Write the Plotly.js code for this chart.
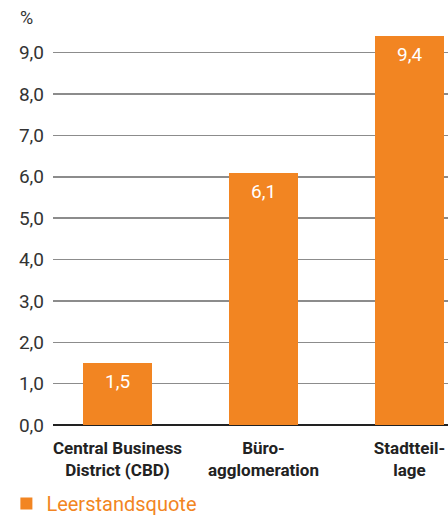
<!DOCTYPE html>
<html><head><meta charset="utf-8">
<script src="https://cdn.plot.ly/plotly-3.0.1.min.js"></script>
<style>html,body{margin:0;padding:0;background:#fff}#c{width:448px;height:517px}</style>
</head><body><div id="c"></div>
<script>
const categories = ["Central Business<br>District (CBD)", "Büro-<br>agglomeration", "Stadtteil-<br>lage"];
const values = [1.5, 6.1, 9.4];
const seriesName = "Leerstandsquote";
const yTicks = [0,1,2,3,4,5,6,7,8,9];

const ORANGE = "#F28522";
const FONT = "Roboto, 'Liberation Sans', sans-serif";

const trace = {
  type: "bar", x: categories, y: values, name: seriesName,
  marker: {color: ORANGE, line: {width: 0}},
  width: 0.473, hoverinfo: "skip", showlegend: true
};

const labelAnnotations = categories.map((c, i) => ({
  x: c, y: values[i], xref: "x", yref: "y",
  text: values[i].toFixed(1).replace(".", ","),
  showarrow: false, yanchor: "top", yshift: -5,
  font: {family: FONT, size: 19, color: "#ffffff"}
}));

const layout = {
  width: 448, height: 517,
  margin: {l: 53, r: 0, t: 32, b: 92, autoexpand: false},
  paper_bgcolor: "#fff", plot_bgcolor: "#fff",
  separators: ",.",
  font: {family: FONT, color: "#333"},
  bargap: 0,
  xaxis: {
    type: "category", range: [-0.442, 2.264], showgrid: false, zeroline: false,
    showline: false, ticks: "", fixedrange: true, automargin: false,
    ticklabelstandoff: 11,
    tickfont: {family: FONT, size: 17, color: "#222", weight: "bold"}
  },
  yaxis: {
    range: [0, 9.5], tickvals: yTicks, tickformat: ".1f", automargin: false,
    showgrid: true, gridcolor: "#8c8c8c", gridwidth: 1.5,
    zeroline: true, zerolinecolor: "#222", zerolinewidth: 2.5,
    showline: false, ticks: "", ticklabelstandoff: 8,
    tickfont: {family: FONT, size: 19, color: "#333"}
  },
  showlegend: true,
  legend: {orientation: "h", x: -0.118, xref: "paper", xanchor: "left",
    y: -0.15, yref: "paper", yanchor: "top",
    font: {family: FONT, size: 20, color: ORANGE}, bgcolor: "rgba(0,0,0,0)"},
  annotations: [
    {xref: "paper", yref: "paper", x: -0.088, y: 1.0, xanchor: "left", yanchor: "bottom",
     yshift: 2, text: "%", showarrow: false, font: {family: FONT, size: 18, color: "#333"}}
  ].concat(labelAnnotations)
};

Plotly.newPlot("c", [trace], layout, {displayModeBar: false, staticPlot: true});
</script></body></html>
